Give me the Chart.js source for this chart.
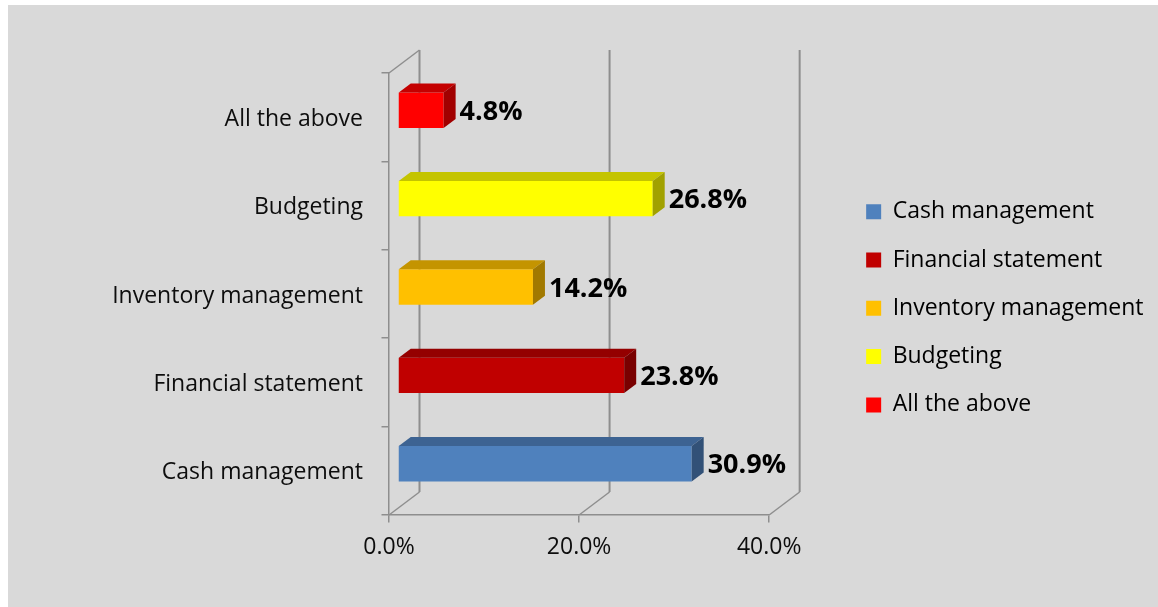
<!DOCTYPE html>
<html>
<head>
<meta charset="utf-8">
<script src="https://cdn.jsdelivr.net/npm/chart.js@4/dist/chart.umd.min.js"></script>
<style>
  html, body { margin: 0; padding: 0; background: #fff; }
  #wrap { position: relative; width: 1158px; height: 607px; }
  #panel { position: absolute; left: 8px; top: 5px; right: 0; bottom: 0; background: #d9d9d9; }
  #box { position: absolute; left: 0; top: 0; width: 1158px; height: 607px; }
</style>
</head>
<body>
<div id="wrap">
  <div id="panel"></div>
  <div id="box"><canvas id="myChart"></canvas></div>
</div>
<script>
var categories = ['Cash management', 'Financial statement', 'Inventory management', 'Budgeting', 'All the above'];
var shares = [30.9, 23.8, 14.2, 26.8, 4.8];
var colors = ['#4f81bd', '#c00000', '#ffc000', '#ffff00', '#ff0000'];
var axisTicks = [0, 20, 40];

var FONT = "'Open Sans', sans-serif";
var GRID = '#8e8e8e';
var WALL = { dx: 30.5, dy: -23 };   // back wall offset
var PLANE = { dx: 9, dy: -7 };      // where the bars sit in depth
var DEPTH = { dx: 12, dy: -9 };     // bar thickness in depth

function shade(hex, f) {
  var n = parseInt(hex.slice(1), 16);
  var r = Math.round(((n >> 16) & 255) * f);
  var g = Math.round(((n >> 8) & 255) * f);
  var b = Math.round((n & 255) * f);
  return 'rgb(' + r + ',' + g + ',' + b + ')';
}

function line(ctx, x1, y1, x2, y2) {
  ctx.beginPath();
  ctx.moveTo(x1, y1);
  ctx.lineTo(x2, y2);
  ctx.stroke();
}

// empty axis used only to reserve space
function spacer(position, size) {
  return {
    type: 'linear',
    position: position,
    afterFit: function (scale) {
      if (scale.isHorizontal()) scale.height = size; else scale.width = size;
    },
    grid: { display: false },
    border: { display: false },
    ticks: { display: false }
  };
}

// walls, floor and the extruded bar faces
var bars3d = {
  id: 'bars3d',
  beforeDatasetsDraw: function (chart) {
    var ctx = chart.ctx, a = chart.chartArea, xs = chart.scales.x;
    ctx.save();
    ctx.strokeStyle = GRID;
    ctx.lineWidth = 2;
    axisTicks.forEach(function (v) {
      var px = xs.getPixelForValue(v);
      line(ctx, px + WALL.dx, a.top + WALL.dy, px + WALL.dx, a.bottom + WALL.dy);
    });
    ctx.lineWidth = 1.5;
    axisTicks.forEach(function (v) {
      var px = xs.getPixelForValue(v);
      line(ctx, px, a.bottom, px + WALL.dx, a.bottom + WALL.dy);
    });
    line(ctx, a.left, a.top, a.left + WALL.dx, a.top + WALL.dy);
    ctx.restore();

    ctx.save();
    ctx.translate(PLANE.dx, PLANE.dy);
  },
  afterDatasetsDraw: function (chart) {
    var ctx = chart.ctx;
    var meta = chart.getDatasetMeta(0);
    meta.data.forEach(function (bar, i) {
      var top = bar.y - bar.height / 2, bottom = bar.y + bar.height / 2;
      var x0 = bar.base, x1 = bar.x;
      ctx.fillStyle = shade(colors[i], 0.77);
      ctx.beginPath();
      ctx.moveTo(x0, top);
      ctx.lineTo(x0 + DEPTH.dx, top + DEPTH.dy);
      ctx.lineTo(x1 + DEPTH.dx, top + DEPTH.dy);
      ctx.lineTo(x1, top);
      ctx.closePath();
      ctx.fill();
      ctx.fillStyle = shade(colors[i], 0.63);
      ctx.beginPath();
      ctx.moveTo(x1, top);
      ctx.lineTo(x1 + DEPTH.dx, top + DEPTH.dy);
      ctx.lineTo(x1 + DEPTH.dx, bottom + DEPTH.dy);
      ctx.lineTo(x1, bottom);
      ctx.closePath();
      ctx.fill();

      ctx.fillStyle = '#000';
      ctx.font = 'bold 27px ' + FONT;
      ctx.textAlign = 'left';
      ctx.textBaseline = 'middle';
      ctx.fillText(shares[i].toFixed(1) + '%', x1 + DEPTH.dx + 4, bar.y + 2);
    });
    ctx.restore();
  }
};

var ctx = document.getElementById('myChart').getContext('2d');

var myChart = new Chart(ctx, {
  type: 'bar',
  data: {
    labels: categories,
    datasets: [{
      data: shares,
      backgroundColor: colors,
      borderWidth: 0,
      categoryPercentage: 1,
      barPercentage: 0.4
    }]
  },
  options: {
    indexAxis: 'y',
    responsive: true,
    maintainAspectRatio: false,
    animation: false,
    layout: { padding: { top: 46.6, bottom: 37, left: 0, right: 4.5 } },
    plugins: {
      tooltip: { enabled: false },
      legend: {
        position: 'right',
        align: 'center',
        maxWidth: 400,
        labels: {
          boxWidth: 15,
          boxHeight: 15,
          padding: 25.3,
          color: '#0d0d0d',
          font: { family: FONT, size: 23 },
          generateLabels: function () {
            return categories.map(function (c, i) {
              return { text: c, fillStyle: colors[i], strokeStyle: colors[i], lineWidth: 0, hidden: false, index: i };
            });
          }
        }
      }
    },
    scales: {
      x: {
        min: 0,
        max: 40,
        afterBuildTicks: function (scale) {
          scale.ticks = axisTicks.map(function (v) { return { value: v }; });
        },
        afterFit: function (scale) { scale.height = 55; },
        grid: { drawOnChartArea: false, drawTicks: true, tickLength: 7.5, color: GRID, lineWidth: 1.5 },
        border: { display: true, color: GRID, width: 1.5 },
        ticks: {
          padding: 11.5,
          color: '#0d0d0d',
          font: { family: FONT, size: 23 },
          callback: function (v) { return Number(v).toFixed(1) + '%'; }
        }
      },
      y: {
        reverse: true,
        afterFit: function (scale) { scale.width = 389; },
        grid: { drawOnChartArea: false, drawTicks: true, tickLength: 7.5, color: GRID, lineWidth: 1.5, offset: true },
        border: { display: true, color: GRID, width: 1.5 },
        ticks: {
          padding: 18.5,
          labelOffset: 2,
          color: '#0d0d0d',
          font: { family: FONT, size: 23 }
        }
      },
      gapTop: spacer('top', 26.4),
      gapRight: spacer('right', 71.7)
    }
  },
  plugins: [bars3d]
});
</script>
</body>
</html>
